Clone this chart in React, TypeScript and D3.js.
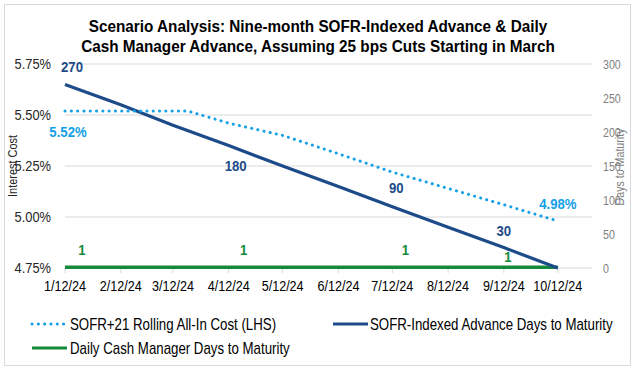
import * as d3 from 'd3';
import type { ReactNode } from 'react';

// x categories (M/D/YY)
const monthDates = ['1/12/24', '2/12/24', '3/12/24', '4/12/24', '5/12/24', '6/12/24', '7/12/24', '8/12/24', '9/12/24', '10/12/24'];
// SOFR-Indexed Advance days to maturity (RHS)
const sofrDays = [270, 240, 210, 180, 150, 120, 90, 60, 30, 0];
// Daily Cash Manager days to maturity (RHS)
const cashDays = [1, 1, 1, 1, 1, 1, 1, 1, 1, 1];
// SOFR+21 rolling all-in cost (LHS, %)
const costDates = ['1/12/24', '2/12/24', '3/12/24', '3/20/24', '4/12/24', '5/12/24', '6/12/24', '7/12/24', '8/12/24', '9/12/24', '10/12/24'];
const costValues = [5.52, 5.52, 5.52, 5.52, 5.46, 5.40, 5.31, 5.22, 5.14, 5.06, 4.98];

const leftTicks = [4.75, 5.0, 5.25, 5.5, 5.75];
const rightTicks = [0, 50, 100, 150, 200, 250, 300];
// points that carry data labels
const labelIdx = [0, 3, 6, 8];

const W = 635;
const H = 370;
const FONT = "'Liberation Sans', Arial, sans-serif";
const DARK = '#1D4B89';
const LIGHT = '#14A0E6';
const GREEN = '#168A3B';

const parseMDY = (s: string) => {
  const [m, d, y] = s.split('/').map(Number);
  return new Date(2000 + y, m - 1, d);
};

// narrow text (no Arial Narrow installed, so squeeze horizontally)
function NText({ x, y, sx = 0.84, rot = 0, children, ...rest }: { x: number; y: number; sx?: number; rot?: number; children: ReactNode; [k: string]: any }) {
  return (
    <text transform={`translate(${x},${y}) rotate(${rot}) scale(${sx},1)`} {...rest}>{children}</text>
  );
}

export default function App() {
  const plot = { left: 65, right: 592, top: 64, bottom: 268 };

  const x = d3.scaleTime()
    .domain([parseMDY('1/12/24'), parseMDY('10/31/24')])
    .range([plot.left, plot.right]);
  const yL = d3.scaleLinear().domain([4.75, 5.75]).range([plot.bottom, plot.top]);
  const yR = d3.scaleLinear().domain([0, 300]).range([plot.bottom, plot.top]);

  const md = monthDates.map(parseMDY);
  const cd = costDates.map(parseMDY);

  const sofrLine = d3.line<number>().x((_, i) => x(md[i])).y(d => yR(d))(sofrDays) || '';
  const cashLine = d3.line<number>().x((_, i) => x(md[i])).y(d => yR(d))(cashDays) || '';
  const costLine = d3.line<number>().x((_, i) => x(cd[i])).y(d => yL(d))(costValues) || '';

  // label offsets (dx, dy) relative to the point
  const sofrOff = [[7, -12], [7, 25], [4, -14], [0, -12]];
  const cashOff = [[17, -12], [15, -12], [13, -12], [4, -5]];
  const lastC = costValues.length - 1;

  return (
    <svg width={W} height={H} style={{ position: 'absolute', left: 0, top: 0, background: '#fff' }} fontFamily={FONT}>
      <rect x={4.5} y={4.5} width={626} height={361} fill="#fff" stroke="#D9D9D9" />

      <NText x={318} y={32} sx={0.9} textAnchor="middle" fontSize={17} fontWeight="bold" fill="#000">
        Scenario Analysis: Nine-month SOFR-Indexed Advance &amp; Daily
      </NText>
      <NText x={318} y={52} sx={0.9} textAnchor="middle" fontSize={17} fontWeight="bold" fill="#000">
        Cash Manager Advance, Assuming 25 bps Cuts Starting in March
      </NText>

      {leftTicks.map(t => (
        <g key={t}>
          <line x1={plot.left} x2={plot.right} y1={yL(t)} y2={yL(t)} stroke="#D9D9D9" strokeWidth={1} />
          <NText x={51} y={yL(t) + 5} sx={0.92} textAnchor="end" fontSize={14} fill="#262626">{t.toFixed(2)}%</NText>
        </g>
      ))}
      {rightTicks.map(t => (
        <NText key={t} x={603} y={yR(t) + 5} sx={0.82} fontSize={13} fill="#7F7F7F">{t}</NText>
      ))}

      {md.map((d, i) => (
        <g key={i}>
          <line x1={x(d)} x2={x(d)} y1={plot.bottom} y2={plot.bottom + 5} stroke="#D9D9D9" />
          <NText x={x(d)} y={plot.bottom + 23} sx={0.9} textAnchor="middle" fontSize={14} fill="#000">{monthDates[i]}</NText>
        </g>
      ))}

      <NText x={17} y={166} rot={-90} sx={0.84} textAnchor="middle" fontSize={13} fill="#262626">Interest Cost</NText>
      <NText x={624} y={167} rot={-90} sx={0.82} textAnchor="middle" fontSize={13} fill="#7F7F7F">Days to Maturity</NText>

      <path d={cashLine} fill="none" stroke={GREEN} strokeWidth={3.5} />
      <path d={sofrLine} fill="none" stroke={DARK} strokeWidth={3.2} />
      <path d={costLine} fill="none" stroke={LIGHT} strokeWidth={3} strokeDasharray="0.1 6.2" strokeLinecap="round" />

      {labelIdx.map((k, j) => (
        <NText key={'s' + k} x={x(md[k]) + sofrOff[j][0]} y={yR(sofrDays[k]) + sofrOff[j][1]} sx={0.85} textAnchor="middle" fontSize={15.5} fontWeight="bold" fill={DARK}>{sofrDays[k]}</NText>
      ))}
      {labelIdx.map((k, j) => (
        <NText key={'c' + k} x={x(md[k]) + cashOff[j][0]} y={yR(cashDays[k]) + cashOff[j][1]} sx={0.85} textAnchor="middle" fontSize={15.5} fontWeight="bold" fill={GREEN}>{cashDays[k]}</NText>
      ))}
      <NText x={x(cd[0]) + 3} y={yL(costValues[0]) + 26} sx={0.85} textAnchor="middle" fontSize={15.5} fontWeight="bold" fill={LIGHT}>{costValues[0].toFixed(2)}%</NText>
      <NText x={x(cd[lastC])} y={yL(costValues[lastC]) - 12} sx={0.85} textAnchor="middle" fontSize={15.5} fontWeight="bold" fill={LIGHT}>{costValues[lastC].toFixed(2)}%</NText>

      {/* legend */}
      <line x1={32} x2={65} y1={324} y2={324} stroke={LIGHT} strokeWidth={3} strokeDasharray="0.1 6.2" strokeLinecap="round" />
      <NText x={70} y={330} sx={0.83} fontSize={16} fill="#000">SOFR+21 Rolling All-In Cost (LHS)</NText>
      <line x1={333} x2={368} y1={324} y2={324} stroke={DARK} strokeWidth={3} />
      <NText x={370} y={330} sx={0.83} fontSize={16} fill="#000">SOFR-Indexed Advance Days to Maturity</NText>
      <line x1={32} x2={67} y1={348} y2={348} stroke={GREEN} strokeWidth={3} />
      <NText x={70} y={354} sx={0.83} fontSize={16} fill="#000">Daily Cash Manager Days to Maturity</NText>
    </svg>
  );
}
